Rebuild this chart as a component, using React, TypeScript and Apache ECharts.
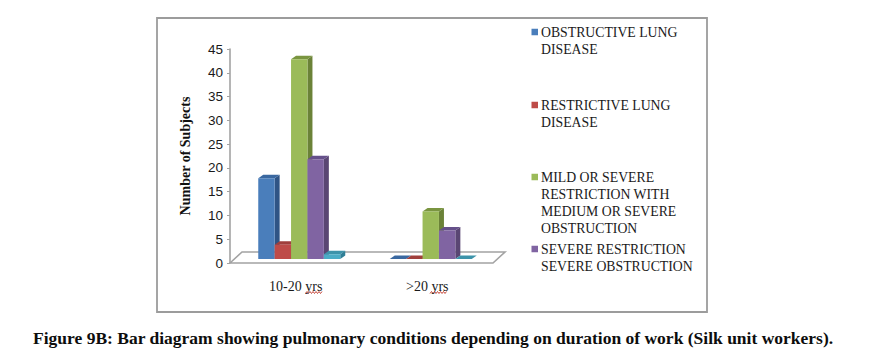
import React, { useEffect, useRef } from "react";
import * as echarts from "echarts";

const categories = ["10-20 yrs", ">20 yrs"];
const seriesNames = [
  "OBSTRUCTIVE LUNG DISEASE",
  "RESTRICTIVE LUNG DISEASE",
  "MILD OR SEVERE RESTRICTION WITH MEDIUM OR SEVERE OBSTRUCTION",
  "SEVERE RESTRICTION SEVERE OBSTRUCTION",
  "OTHER",
];
const legendLabels = [
  "OBSTRUCTIVE LUNG\nDISEASE",
  "RESTRICTIVE LUNG\nDISEASE",
  "MILD OR SEVERE\nRESTRICTION WITH\nMEDIUM OR SEVERE\nOBSTRUCTION",
  "SEVERE RESTRICTION\nSEVERE OBSTRUCTION",
];
const obstructive = [17, 0];
const restrictive = [3, 0];
const mildOrSevere = [42, 10];
const severe = [21, 6];
const other = [1, 0];
const seriesValues = [obstructive, restrictive, mildOrSevere, severe, other];

const frontColors = ["#4a7ebb", "#be4b48", "#9bbb59", "#8064a2", "#4bacc6"];
const sideColors = ["#2f5485", "#8c3836", "#6b8238", "#5a4673", "#2f7f96"];
const topColors = ["#3a68a0", "#a03f3c", "#7a9540", "#65508a", "#3d93aa"];
const legendTops = [23.5, 96.5, 168.5, 240.5];

const SERIF = "'Liberation Serif', serif";
const BAR_WIDTH = 16.4;
const DX = 5;
const DY = 3.5;
const LIFT = 4;
const SHIFT = 3.5;

function squiggle(x0: number, x1: number, y: number) {
  const pts: number[][] = [];
  let up = false;
  for (let x = x0; x <= x1; x += 1.5) {
    pts.push([x, up ? y - 1 : y + 1]);
    up = !up;
  }
  return pts;
}

function barRenderer(index: number) {
  return (_params: any, api: any) => {
    const cat = api.value(0);
    const top = api.coord([cat, api.value(1)]);
    const base = api.coord([cat, 0]);
    const x = top[0] + SHIFT - (BAR_WIDTH * 5) / 2 + index * BAR_WIDTH;
    const y0 = base[1] - LIFT;
    const y1 = top[1] - LIFT;
    const w = BAR_WIDTH;
    return {
      type: "group",
      children: [
        {
          type: "polygon",
          shape: { points: [[x + w, y0], [x + w + DX, y0 - DY], [x + w + DX, y1 - DY], [x + w, y1]] },
          style: { fill: sideColors[index] },
        },
        {
          type: "polygon",
          shape: { points: [[x, y1], [x + DX, y1 - DY], [x + w + DX, y1 - DY], [x + w, y1]] },
          style: { fill: topColors[index] },
        },
        {
          type: "rect",
          shape: { x, y: y1, width: w, height: y0 - y1 },
          style: { fill: frontColors[index] },
        },
      ],
    };
  };
}

function floorRenderer(params: any) {
  const c = params.coordSys;
  const b = c.y + c.height;
  const r = c.x + c.width;
  return {
    type: "polygon",
    silent: true,
    shape: { points: [[c.x, b], [c.x + 12, b - 11], [r + 12, b - 11], [r, b]] },
    style: { fill: "#ffffff", stroke: "#a3a3a3", lineWidth: 1.6 },
  };
}

export default function App() {
  const ref = useRef<HTMLDivElement>(null);
  useEffect(() => {
    const chart = echarts.init(ref.current!, undefined, { renderer: "svg" });
    const legends = legendLabels.map((label, i) => {
      const lines = label.split("\n").length;
      const h = (lines - 1) * 17 + 6.5;
      return {
        show: true,
        data: [seriesNames[i]],
        left: 531.5,
        top: legendTops[i],
        padding: 0,
        itemWidth: 6.5,
        itemHeight: h,
        itemGap: 0,
        selectedMode: false,
        icon: `path://M0 0H6.5V6.5H0Z M0 0L0 ${h}`,
        formatter: () => label,
        textStyle: {
          fontFamily: SERIF,
          fontSize: 13.75,
          lineHeight: 17,
          color: "#1a1a1a",
          padding: [0, 0, 0, -2],
        },
      };
    });
    chart.setOption({
      animation: false,
      backgroundColor: "#ffffff",
      title: {
        text: "Figure 9B: Bar diagram showing pulmonary conditions depending on duration of work (Silk unit workers).",
        left: 33,
        top: 329,
        padding: 0,
        textStyle: { fontFamily: SERIF, fontSize: 17.5, fontWeight: "bold", color: "#0d0d0d" },
      },
      legend: legends,
      grid: { left: 230, top: 49, width: 263, height: 214 },
      xAxis: {
        type: "category",
        data: categories,
        axisLine: { show: false },
        axisTick: { show: false },
        axisLabel: { fontFamily: SERIF, fontSize: 14, color: "#1a1a1a", margin: 16 },
      },
      yAxis: {
        type: "value",
        min: 0,
        max: 45,
        interval: 5,
        name: "Number of Subjects",
        nameLocation: "middle",
        nameGap: 38,
        nameRotate: 90,
        nameTextStyle: { fontFamily: SERIF, fontSize: 14, fontWeight: "bold", color: "#111111" },
        axisLine: { show: true, lineStyle: { color: "#a3a3a3", width: 1.6 } },
        axisTick: { show: true, length: 3, lineStyle: { color: "#a3a3a3" } },
        axisLabel: { fontFamily: "'Liberation Sans', sans-serif", fontSize: 13.5, color: "#1a1a1a", margin: 7 },
        splitLine: { show: false },
      },
      graphic: [
        {
          type: "rect",
          silent: true,
          shape: { x: 157, y: 18, width: 550, height: 294 },
          style: { fill: "none", stroke: "#9c9c9c", lineWidth: 1.8 },
        },
        {
          type: "polyline",
          silent: true,
          shape: { points: squiggle(305.5, 323, 292.5) },
          style: { fill: "none", stroke: "#c0392b", lineWidth: 0.9 },
        },
        {
          type: "polyline",
          silent: true,
          shape: { points: squiggle(430, 447, 292.5) },
          style: { fill: "none", stroke: "#c0392b", lineWidth: 0.9 },
        },
      ],
      series: [
        {
          type: "custom",
          name: "floor",
          silent: true,
          z: 1,
          renderItem: floorRenderer,
          data: [[0, 0]],
        },
        ...seriesValues.map((vals, i) => ({
          type: "custom",
          name: seriesNames[i],
          z: 2,
          clip: false,
          itemStyle: { color: frontColors[i] },
          encode: { x: 0, y: 1 },
          renderItem: barRenderer(i),
          data: vals.map((v, k) => [k, v]),
        })),
      ],
    });
    return () => chart.dispose();
  }, []);
  return <div ref={ref} style={{ position: "fixed", left: 0, top: 0, width: 886, height: 364 }} />;
}
